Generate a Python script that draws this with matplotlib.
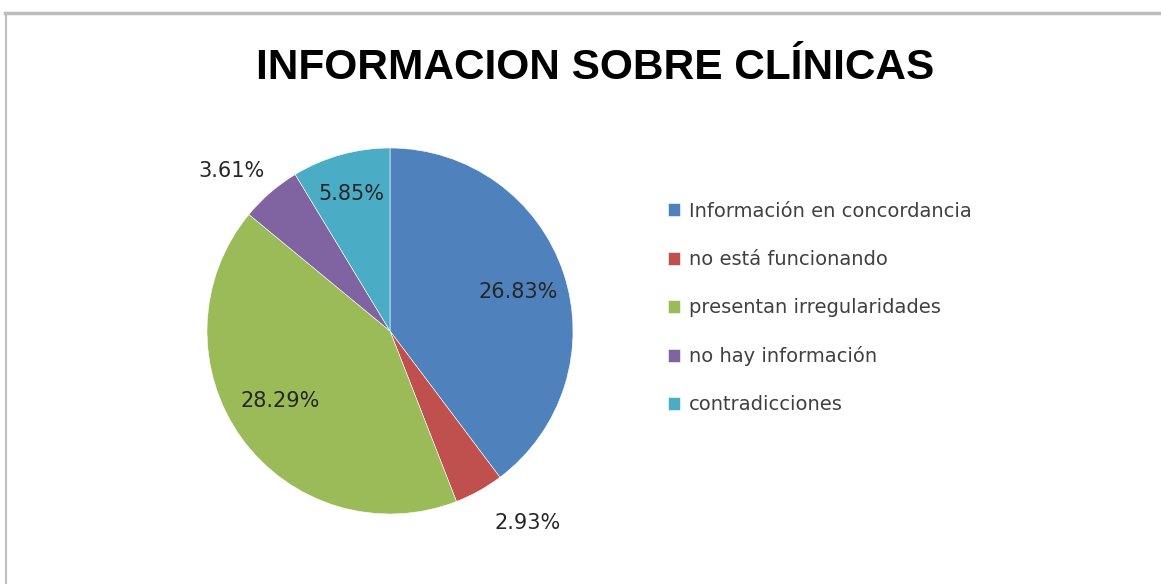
import matplotlib
matplotlib.use("Agg")
import matplotlib.pyplot as plt
import numpy as np
from matplotlib.lines import Line2D

categories = ["Información en concordancia", "no está funcionando", "presentan irregularidades",
              "no hay información", "contradicciones"]
values = [26.83, 2.93, 28.29, 3.61, 5.85]
value_labels = ["26.83%", "2.93%", "28.29%", "3.61%", "5.85%"]

colors = ["#4F81BD", "#C0504D", "#9BBB59", "#8064A2", "#4BACC6"]
# label distance from centre (radius units) and small angle shift in degrees
label_dist = [0.73, 1.29, 0.71, 1.23, 0.78]
label_shift = [-1.5, 6.5, -3.5, 4.0, 0.0]

fig = plt.figure(figsize=(11.61, 5.84), dpi=100)
fig.patch.set_facecolor("white")

# chart frame (top and left edges visible)
fig.add_artist(Line2D([0.004, 1.0], [1 - 13 / 584, 1 - 13 / 584], transform=fig.transFigure,
                      color="#BDBDBD", lw=2.5))
fig.add_artist(Line2D([6 / 1161, 6 / 1161], [0.0, 1 - 13 / 584], transform=fig.transFigure,
                      color="#BDBDBD", lw=1.5))

fig.text(595 / 1161, 1 - 68 / 584, "INFORMACION SOBRE CLÍNICAS", ha="center", va="center",
         fontsize=30.5, fontweight="bold", family=["Liberation Sans", "DejaVu Sans"], color="black")

ax = fig.add_axes([207 / 1161, 70 / 584, 366 / 1161, 366 / 584])
wedges, _ = ax.pie(values, colors=colors, startangle=90, counterclock=False, radius=1.0,
                   wedgeprops=dict(edgecolor="white", linewidth=0.4))
ax.set_xlim(-1, 1)
ax.set_ylim(-1, 1)
ax.set_aspect("equal")
ax.axis("off")

for w, lab, d, s in zip(wedges, value_labels, label_dist, label_shift):
    ang = np.deg2rad((w.theta1 + w.theta2) / 2 + s)
    ax.text(d * np.cos(ang), d * np.sin(ang), lab, ha="center", va="center",
            fontsize=15, color="#262626")

fig.legend(wedges, categories, loc="upper left", bbox_to_anchor=(658 / 1161, 1 - 192 / 584),
           frameon=False, fontsize=14, labelspacing=1.5, handlelength=0.65, handleheight=0.65,
           handletextpad=0.45, borderpad=0, labelcolor="#404040")

fig.savefig("out.png", dpi=100, facecolor="white")
